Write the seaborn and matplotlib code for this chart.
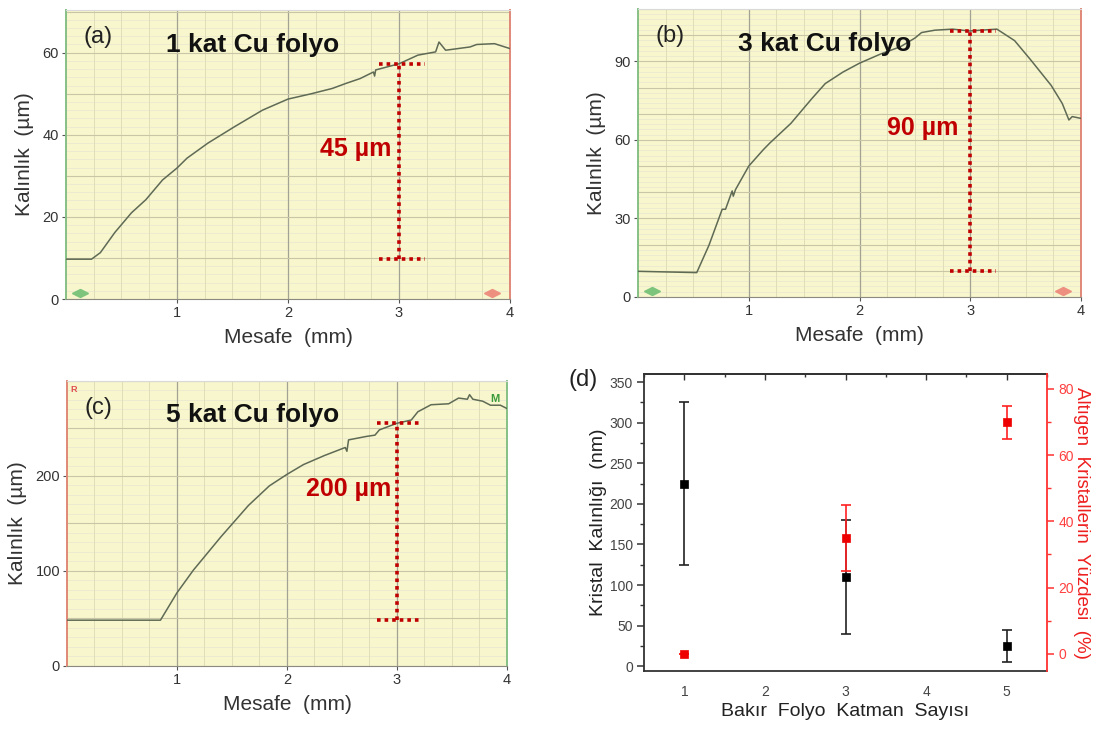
import numpy as np
import pandas as pd
import matplotlib
matplotlib.use("Agg")
import matplotlib.pyplot as plt
import seaborn as sns
from matplotlib.ticker import MultipleLocator

sns.set_theme(style="white")
plt.rcParams["font.family"] = ["Liberation Sans", "DejaVu Sans"]

# ---- thickness profiles (distance in mm, thickness in um) ----
mesafe_a = [0, 0.23, 0.31, 0.44, 0.59, 0.72, 0.87, 1.0, 1.09, 1.28, 1.52, 1.77, 2.0,
            2.21, 2.40, 2.52, 2.65, 2.77, 2.78, 2.79, 3.0, 3.17, 3.33, 3.36, 3.42,
            3.64, 3.70, 3.86, 4.0]
kalinlik_a = [9.7, 9.7, 11.3, 16.2, 21, 24.2, 29, 31.9, 34.3, 38, 42, 46, 48.7,
              50, 51.3, 52.5, 53.7, 55.3, 54.3, 55.8, 57.3, 59.4, 60.2, 62.6, 60.6,
              61.4, 62, 62.2, 61]

mesafe_b = [0, 0.53, 0.64, 0.76, 0.79, 0.85, 0.86, 0.88, 1.0, 1.13, 1.19, 1.38, 1.57,
            1.69, 1.85, 2.0, 2.19, 2.37, 2.50, 2.56, 2.68, 2.84, 2.99, 3.24, 3.40,
            3.55, 3.73, 3.83, 3.89, 3.92, 4.0]
kalinlik_b = [9.8, 9.3, 19.7, 33.5, 33.5, 40.5, 38.5, 41, 50, 56.2, 58.8, 66.3, 75.8,
              81.5, 85.9, 89.3, 92.8, 95.6, 98.9, 101, 101.9, 102.3, 101.6, 102.3, 97.9,
              90.3, 80.8, 73.9, 67.6, 68.9, 68.2]

mesafe_c = [0, 0.85, 1.0, 1.15, 1.40, 1.65, 1.84, 2.0, 2.15, 2.34, 2.53, 2.545, 2.56,
            2.72, 2.80, 2.84, 3.0, 3.13, 3.19, 3.31, 3.47, 3.56, 3.64, 3.66, 3.69,
            3.78, 3.85, 3.94, 4.0]
kalinlik_c = [48.2, 48.2, 77, 101, 136, 169, 189.6, 201.7, 212, 221.5, 230, 226, 238,
              241.6, 243, 248.5, 255.5, 258.9, 267.6, 275, 276, 282, 280.8, 285.6, 280.8,
              278.7, 274.5, 274.5, 271]

# ---- crystal thickness and hexagonal fraction vs. number of foil layers ----
katman = [1, 3, 5]
kristal_kalinlik = [225, 110, 25]
kristal_hata = [100, 70, 20]
altigen_yuzde = [0, 35, 70]
altigen_hata = [0, 10, 5]

YELLOW = "#F8F6CD"
CURVE = "#5f6a55"
DARKRED = "#C00000"
GREEN_EDGE = "#86c086"
RED_EDGE = "#e08878"

fig = plt.figure(figsize=(10.94, 7.30), dpi=100)


def profile_panel(rect, x, y, ytop, ystep, gstep, fstep, letter, title,
                  thick_label, label_pos, left_c, right_c):
    ax = fig.add_axes(rect)
    ax.set_facecolor(YELLOW)
    ax.set_xlim(0, 4)
    ax.set_ylim(0, ytop)

    # fine background grid
    for v in np.arange(fstep, ytop, fstep):
        ax.axhline(v, color="#ecead0", lw=0.6, zorder=0)
    ax.xaxis.set_major_locator(MultipleLocator(1))
    ax.xaxis.set_minor_locator(MultipleLocator(0.25))
    ax.yaxis.set_major_locator(MultipleLocator(ystep))
    ax.yaxis.set_minor_locator(MultipleLocator(gstep))
    ax.grid(which="major", axis="x", color="#a3a393", lw=0.9, zorder=1)
    ax.grid(which="minor", axis="x", color="#e0deb8", lw=0.7, zorder=1)
    ax.grid(which="both", axis="y", color="#c8c6a6", lw=0.8, zorder=1)
    ax.set_axisbelow(True)

    df = pd.DataFrame({"Mesafe": x, "Kalinlik": y})
    sns.lineplot(data=df, x="Mesafe", y="Kalinlik", ax=ax, color=CURVE,
                 lw=1.1, zorder=3)

    ax.set_xticks([1, 2, 3, 4])
    ax.set_yticks(np.arange(0, ytop, ystep))
    ax.tick_params(which="major", length=3, width=0.8, color="#555555",
                   labelsize=10.5, labelcolor="#333333", pad=2,
                   left=True, bottom=True)
    ax.tick_params(which="minor", length=0)
    ax.set_xlabel("Mesafe  (mm)", fontsize=15, color="#333333", labelpad=6)
    ax.set_ylabel("Kalınlık  (µm)", fontsize=15, color="#333333", labelpad=6)

    ax.spines["left"].set_color(left_c)
    ax.spines["right"].set_color(right_c)
    ax.spines["left"].set_linewidth(1.4)
    ax.spines["right"].set_linewidth(1.4)
    ax.spines["top"].set_color("#d9d9d9")
    ax.spines["top"].set_linewidth(0.8)
    ax.spines["bottom"].set_color("#8a8a80")
    ax.spines["bottom"].set_linewidth(0.8)

    # thickness bracket: from the base level up to the profile at 3 mm
    base = y[0]
    top = float(np.interp(3.0, x, y))
    dot = dict(color=DARKRED, lw=2.6, linestyle=(0, (1, 1.1)), zorder=4,
               solid_capstyle="butt")
    ax.plot([2.82, 3.23], [top, top], **dot)
    ax.plot([2.82, 3.23], [base, base], **dot)
    ax.plot([3.0, 3.0], [base, top], **dot)
    ax.text(label_pos[0], label_pos[1], thick_label, color=DARKRED,
            fontsize=18, fontweight="bold", ha="right", va="center", zorder=5)

    ax.text(0.16, ytop * 0.905, letter, fontsize=17, color="#222222",
            ha="left", va="center", zorder=5)
    ax.text(0.9, ytop * 0.88, title, fontsize=19, fontweight="bold",
            color="#111111", ha="left", va="center", zorder=5)
    return ax


ax_a = profile_panel([0.0603, 0.5904, 0.4059, 0.3959], mesafe_a, kalinlik_a,
                     70.4, 20, 10, 2, "(a)", "1 kat Cu folyo", "45 µm",
                     (2.93, 36.5), GREEN_EDGE, RED_EDGE)
ax_b = profile_panel([0.5832, 0.5932, 0.4050, 0.3945], mesafe_b, kalinlik_b,
                     110, 30, 10, 2, "(b)", "3 kat Cu folyo", "90 µm",
                     (2.89, 64.4), GREEN_EDGE, RED_EDGE)
ax_c = profile_panel([0.0612, 0.0877, 0.4022, 0.3904], mesafe_c, kalinlik_c,
                     300, 100, 50, 10, "(c)", "5 kat Cu folyo", "200 µm",
                     (2.95, 186), RED_EDGE, GREEN_EDGE)

# cursor handles on the profiler screens
for ax, ytop in ((ax_a, 70.4), (ax_b, 110)):
    yy = ytop * 0.022
    ax.plot([0.09], [yy], marker="<", ms=6, color="#7dc47d", zorder=5, clip_on=False)
    ax.plot([0.16], [yy], marker=">", ms=6, color="#7dc47d", zorder=5, clip_on=False)
    ax.plot([3.80], [yy], marker="<", ms=6, color="#ee9080", zorder=5, clip_on=False)
    ax.plot([3.87], [yy], marker=">", ms=6, color="#ee9080", zorder=5, clip_on=False)
ax_c.text(0.03, 291, "R", color="#e05050", fontsize=6.5, fontweight="bold",
          ha="left", va="center")
ax_c.text(3.93, 281, "M", color="#3a9a3a", fontsize=8, fontweight="bold",
          ha="right", va="center")

# ---- panel (d) ----
ax_d = fig.add_axes([0.5887, 0.0808, 0.3684, 0.4068])
ax_d.set_facecolor("white")
ax_r = ax_d.twinx()

ax_d.errorbar(katman, kristal_kalinlik, yerr=kristal_hata, fmt="none",
              ecolor="#222222", elinewidth=1.2, capsize=3.5, capthick=1.2, zorder=2)
sns.scatterplot(x=katman, y=kristal_kalinlik, ax=ax_d, marker="s", s=38,
                color="black", edgecolor="black", zorder=3)
ax_r.errorbar(katman, altigen_yuzde, yerr=altigen_hata, fmt="none",
              ecolor="#ff2020", elinewidth=1.2, capsize=3.5, capthick=1.2, zorder=2)
sns.scatterplot(x=katman, y=altigen_yuzde, ax=ax_r, marker="s", s=38,
                color="#ee0000", edgecolor="#ee0000", zorder=3)

ax_d.set_xlim(0.5, 5.5)
ax_d.set_ylim(-6, 360)
ax_r.set_ylim(-5.2, 84.5)
ax_d.set_xticks([1, 2, 3, 4, 5])
ax_d.xaxis.set_minor_locator(MultipleLocator(0.5))
ax_d.set_yticks(np.arange(0, 351, 50))
ax_d.yaxis.set_minor_locator(MultipleLocator(25))
ax_r.set_yticks(np.arange(0, 81, 20))
ax_r.yaxis.set_minor_locator(MultipleLocator(10))

ax_d.tick_params(axis="both", which="major", direction="out", length=5, width=1.1,
                 color="#333333", labelsize=10, labelcolor="#444444", pad=3)
ax_d.tick_params(axis="both", which="minor", direction="out", length=3, width=1.0,
                 color="#333333")
ax_d.tick_params(axis="x", pad=5)
ax_r.tick_params(axis="y", which="major", direction="out", length=5, width=1.1,
                 color="#ff3030", labelsize=10, labelcolor="#ff4040", pad=3)
ax_r.tick_params(axis="y", which="minor", direction="out", length=3, width=1.0,
                 color="#ff3030")

top_ax = ax_d.secondary_xaxis("top")
top_ax.set_xticks([1, 2, 3, 4, 5])
top_ax.xaxis.set_minor_locator(MultipleLocator(0.5))
top_ax.tick_params(which="major", direction="in", length=4, width=1.0,
                   color="#333333", labeltop=False)
top_ax.tick_params(which="minor", direction="in", length=2.5, width=1.0,
                   color="#333333")
top_ax.spines["top"].set_color("#333333")
top_ax.spines["top"].set_linewidth(1.3)

for s in ("left", "bottom", "top"):
    ax_d.spines[s].set_color("#333333")
    ax_d.spines[s].set_linewidth(1.3)
ax_d.spines["right"].set_visible(False)
for s in ("left", "bottom", "top"):
    ax_r.spines[s].set_visible(False)
ax_r.spines["right"].set_color("#ff3030")
ax_r.spines["right"].set_linewidth(1.3)

ax_d.set_xlabel("Bakır  Folyo  Katman  Sayısı", fontsize=14, color="#222222",
                labelpad=3)
ax_d.set_ylabel("Kristal  Kalınlığı  (nm)", fontsize=14, color="#222222",
                labelpad=2)
ax_r.set_ylabel("Altıgen  Kristallerin  Yüzdesi  (%)", fontsize=13.5,
                color="#ee2020", rotation=270, labelpad=12)

fig.text(0.533, 0.479, "(d)", fontsize=17, color="#222222", ha="center",
         va="center")

fig.savefig("out.png", dpi=100, facecolor="white")
